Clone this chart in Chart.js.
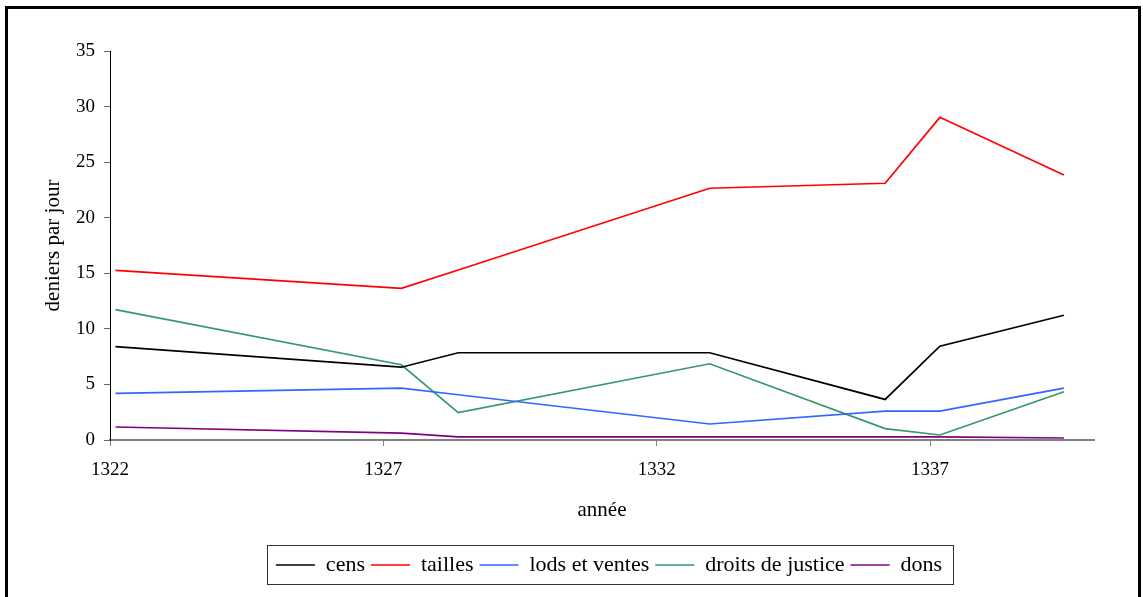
<!DOCTYPE html>
<html>
<head>
<meta charset="utf-8">
<script src="https://cdn.jsdelivr.net/npm/chart.js@4.4.1/dist/chart.umd.min.js"></script>
<style>
  html, body { margin: 0; padding: 0; background: #fff; }
  #wrap { position: relative; width: 1143px; height: 597px; overflow: hidden; }
  #frame { position: absolute; left: 5px; top: 6px; width: 1130px; height: 620px; border: 3px solid #000; pointer-events: none; }
  canvas { position: absolute; left: 0; top: 0; }
</style>
</head>
<body>
<div id="wrap">
  <canvas id="c" width="1143" height="597"></canvas>
  <div id="frame"></div>
</div>
<script>
// ---- data ----
const years = [1322.1, 1327.33, 1328.37, 1332.97, 1336.18, 1337.18, 1339.45];
const cens = [8.41, 6.55, 7.85, 7.85, 3.65, 8.44, 11.22];
const tailles = [15.26, 13.64, 15.3, 22.65, 23.1, 29.03, 23.85];
const lodsEtVentes = [4.19, 4.67, 4.07, 1.44, 2.6, 2.6, 4.67];
const droitsDeJustice = [11.73, 6.77, 2.46, 6.86, 1.02, 0.45, 4.34];
const dons = [1.17, 0.62, 0.28, 0.28, 0.28, 0.28, 0.18];
const seriesNames = ['cens', 'tailles', 'lods et ventes', 'droits de justice', 'dons'];
const xTickValues = [1322, 1327, 1332, 1337];
const xTickLabels = ['1322', '1327', '1332', '1337'];
const yTitle = 'deniers par jour';
const xTitle = 'année';

const colors = ['#000000', '#FF0000', '#3366FF', '#339966', '#800080'];
const allSeries = [cens, tailles, lodsEtVentes, droitsDeJustice, dons];

const pts = arr => arr.map((v, i) => ({x: years[i], y: v}));

const FONT = 'Liberation Serif';

const legendShift = {
  id: 'legendShift',
  afterLayout(chart) {
    const lg = chart.legend;
    if (lg) { lg.left += 7; lg.right += 7; }
  }
};

const legendFrame = {
  id: 'legendFrame',
  afterDraw(chart) {
    const lg = chart.legend;
    if (!lg || !lg.legendHitBoxes || !lg.legendHitBoxes.length) return;
    const hb = lg.legendHitBoxes;
    let l = Infinity, r = -Infinity, cy = 0;
    hb.forEach(h => { l = Math.min(l, h.left); r = Math.max(r, h.left + h.width); cy = h.top + h.height / 2; });
    const ctx = chart.ctx;
    ctx.save();
    ctx.strokeStyle = '#333';
    ctx.lineWidth = 1;
    ctx.strokeRect(Math.round(l - 9) + 0.5, Math.round(cy - 20) + 0.5, Math.round(r - l + 20), 39);
    ctx.restore();
  }
};

new Chart(document.getElementById('c'), {
  type: 'line',
  data: {
    datasets: allSeries.map((s, i) => ({
      label: seriesNames[i],
      data: pts(s),
      borderColor: colors[i],
      backgroundColor: colors[i],
      borderWidth: 1.7,
      pointRadius: 0,
      pointHoverRadius: 0,
      tension: 0,
      fill: false
    }))
  },
  options: {
    responsive: false,
    animation: false,
    events: [],
    layout: { padding: { top: 51, left: 10, right: 49, bottom: 11 } },
    plugins: {
      tooltip: { enabled: false },
      legend: {
        position: 'bottom',
        fullSize: false,
        labels: {
          usePointStyle: true,
          pointStyle: 'line',
          pointStyleWidth: 39,
          boxHeight: 22,
          padding: 6,
          color: '#000',
          font: { family: FONT, size: 22 }
        }
      }
    },
    scales: {
      x: {
        type: 'linear',
        min: 1322,
        max: 1340,
        afterBuildTicks: s => { s.ticks = xTickValues.map(v => ({value: v})); },
        afterFit: s => { s.height = 108; },
        ticks: {
          callback: (v, i) => xTickLabels[i],
          color: '#000',
          font: { family: FONT, size: 19 },
          padding: 13,
          maxRotation: 0,
          autoSkip: false
        },
        grid: { drawOnChartArea: false, drawTicks: true, tickLength: 6, color: '#808080', lineWidth: 1 },
        border: { display: true, color: '#808080', width: 2 },
        title: { display: true, text: xTitle, color: '#000', font: { family: FONT, size: 21 }, padding: { top: 0, bottom: 25 } }
      },
      y: {
        min: 0,
        max: 35,
        afterFit: s => { s.width = 100; },
        ticks: { stepSize: 5, color: '#000', font: { family: FONT, size: 19 }, padding: 9 },
        grid: { drawOnChartArea: false, drawTicks: true, tickLength: 6, color: '#666', lineWidth: 1 },
        border: { display: true, color: '#000', width: 1 },
        title: { display: true, text: yTitle, color: '#000', font: { family: FONT, size: 21 }, padding: { top: 31, bottom: 0 } }
      }
    }
  },
  plugins: [legendShift, legendFrame]
});
</script>
</body>
</html>
